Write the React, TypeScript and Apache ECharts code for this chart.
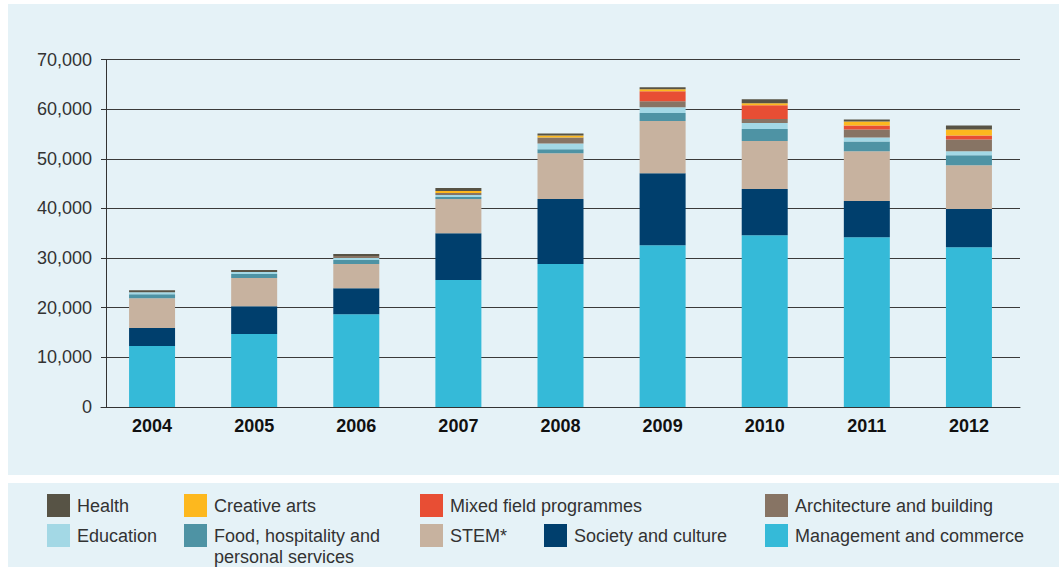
import React, { useEffect, useRef } from "react";
import * as echarts from "echarts";

const years = ["2004", "2005", "2006", "2007", "2008", "2009", "2010", "2011", "2012"];
const yTicks = [0, 10000, 20000, 30000, 40000, 50000, 60000, 70000];

const management = [12300, 14700, 18700, 25600, 28800, 32600, 34600, 34200, 32200];
const society = [3600, 5600, 5200, 9400, 13100, 14500, 9300, 7300, 7700];
const stem = [6000, 5700, 4900, 6900, 9200, 10500, 9700, 10000, 8800];
const food = [800, 800, 800, 400, 800, 1600, 2400, 2000, 2000];
const education = [400, 400, 400, 400, 1200, 1200, 1200, 800, 800];
const architecture = [0, 0, 400, 400, 1200, 1200, 800, 1600, 2400];
const mixed = [0, 0, 0, 0, 0, 2000, 2800, 800, 800];
const creative = [0, 0, 0, 400, 400, 400, 400, 800, 1200];
const health = [400, 400, 400, 600, 400, 400, 800, 400, 800];

const seriesDefs = [
  { name: "Management and commerce", data: management, color: "#35bad8" },
  { name: "Society and culture", data: society, color: "#003f6d" },
  { name: "STEM*", data: stem, color: "#c7b29f" },
  { name: "Food, hospitality and personal services", data: food, color: "#4e93a4" },
  { name: "Education", data: education, color: "#a3d8e5" },
  { name: "Architecture and building", data: architecture, color: "#877464" },
  { name: "Mixed field programmes", data: mixed, color: "#e84e34" },
  { name: "Creative arts", data: creative, color: "#fdb81e" },
  { name: "Health", data: health, color: "#575345" },
];

const legendPos: { name: string; left: number; top: number }[] = [
  { name: "Health", left: 47, top: 494 },
  { name: "Creative arts", left: 184, top: 494 },
  { name: "Mixed field programmes", left: 420, top: 494 },
  { name: "Architecture and building", left: 765, top: 494 },
  { name: "Education", left: 47, top: 524 },
  { name: "Food, hospitality and personal services", left: 184, top: 524 },
  { name: "STEM*", left: 420, top: 524 },
  { name: "Society and culture", left: 544, top: 524 },
  { name: "Management and commerce", left: 765, top: 524 },
];

const FONT = "'Liberation Sans', Arial, sans-serif";

export default function App() {
  const ref = useRef<HTMLDivElement>(null);
  useEffect(() => {
    if (!ref.current) return;
    const chart = echarts.init(ref.current, null, { renderer: "svg" });
    chart.setOption({
      animation: false,
      backgroundColor: "#ffffff",
      graphic: [
        { type: "rect", z: -10, shape: { x: 8, y: 4, width: 1051, height: 471 }, style: { fill: "#e5f2f7" } },
        { type: "rect", z: -10, shape: { x: 8, y: 483, width: 1051, height: 84 }, style: { fill: "#e5f2f7" } },
        {
          type: "text",
          left: 214,
          top: 548,
          style: { text: "personal services", fill: "#333333", font: `18px ${FONT}` },
        },
      ],
      legend: legendPos.map((l) => ({
        data: [l.name],
        left: l.left,
        top: l.top,
        padding: 0,
        itemWidth: 23,
        itemHeight: 23,
        itemGap: 0,
        icon: "rect",
        selectedMode: false,
        formatter: (n: string) => (n.startsWith("Food") ? "Food, hospitality and" : n),
        textStyle: { fontSize: 18, color: "#333333", fontFamily: FONT, padding: [0, 0, 0, 2] },
      })),
      grid: { left: 101, right: 39, top: 59.5, bottom: 160, containLabel: false },
      xAxis: {
        type: "category",
        data: years,
        axisLine: { lineStyle: { color: "#333333", width: 1 } },
        axisTick: { show: false },
        axisLabel: { fontSize: 18, fontWeight: "bold", color: "#111111", fontFamily: FONT, margin: 10 },
      },
      yAxis: {
        type: "value",
        min: 0,
        max: 70000,
        interval: 10000,
        offset: -5,
        axisLine: { show: true, lineStyle: { color: "#333333", width: 1 } },
        axisTick: { show: true, length: 5, lineStyle: { color: "#333333" } },
        axisLabel: {
          fontSize: 18,
          color: "#333333",
          fontFamily: FONT,
          margin: 14,
          formatter: (v: number) => (yTicks.includes(v) ? v.toLocaleString("en-US") : ""),
        },
        splitLine: { show: true, lineStyle: { color: "#3a3a3a", width: 1 } },
      },
      series: seriesDefs.map((s) => ({
        name: s.name,
        type: "bar",
        stack: "total",
        barWidth: 46,
        data: s.data,
        itemStyle: { color: s.color },
      })),
    });
    return () => chart.dispose();
  }, []);
  return <div ref={ref} style={{ position: "absolute", left: 0, top: 0, width: 1059, height: 567 }} />;
}
